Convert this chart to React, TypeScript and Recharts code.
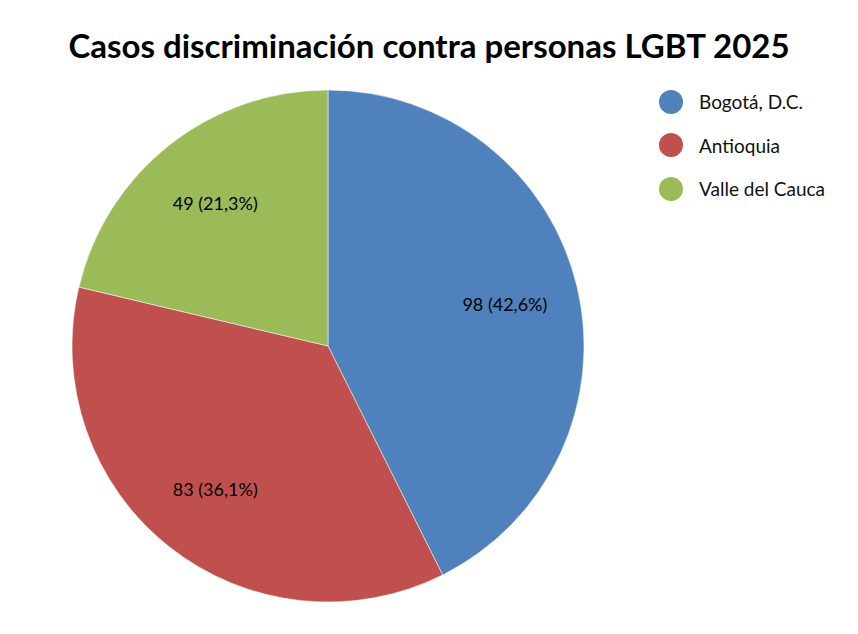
import { PieChart, Pie, Cell, Legend } from 'recharts';

const regions = ['Bogotá, D.C.', 'Antioquia', 'Valle del Cauca'];
const cases = [98, 83, 49];
const colors = ['#4F81BD', '#C0504D', '#9BBB59'];

const data = regions.map((name, i) => ({ name, value: cases[i] }));

const RAD = Math.PI / 180;
const FONT = 'Lato, "Open Sans", sans-serif';

const renderLabel = (props: any) => {
  const { cx, cy, midAngle, outerRadius, value, percent } = props;
  const r = outerRadius * 0.71;
  const x = cx + r * Math.cos(-midAngle * RAD);
  const y = cy + r * Math.sin(-midAngle * RAD);
  const pct = (percent * 100).toFixed(1).replace('.', ',');
  return (
    <text
      x={x}
      y={y}
      textAnchor="middle"
      dominantBaseline="central"
      fill="#000"
      fontSize={18}
      fontFamily={FONT}
    >
      {`${value} (${pct}%)`}
    </text>
  );
};

const LegendContent = () => (
  <div style={{ fontFamily: FONT }}>
    {data.map((d, i) => (
      <div key={d.name} style={{ display: 'flex', alignItems: 'center', height: 43.5 }}>
        <svg width={24} height={24} style={{ marginRight: 16 }}>
          <circle cx={12} cy={12} r={12} fill={colors[i]} />
        </svg>
        <span style={{ fontSize: 19, color: '#111' }}>{d.name}</span>
      </div>
    ))}
  </div>
);

export default function App() {
  return (
    <div style={{ position: 'absolute', left: 0, top: 0, width: 858, height: 634, background: '#fff' }}>
      <div
        style={{
          position: 'absolute',
          left: 0,
          top: 25,
          width: 858,
          textAlign: 'center',
          fontFamily: FONT,
          fontWeight: 700,
          fontSize: 33,
          color: '#000',
          zIndex: 1,
        }}
      >
        Casos discriminación contra personas LGBT 2025
      </div>
      <PieChart width={858} height={634} margin={{ top: 0, right: 0, bottom: 0, left: 0 }}>
        <Pie
          data={data}
          dataKey="value"
          nameKey="name"
          cx={328}
          cy={346}
          outerRadius={256}
          startAngle={90}
          endAngle={-270}
          stroke="#ffffff"
          strokeWidth={0.5}
          label={renderLabel}
          labelLine={false}
          isAnimationActive={false}
        >
          {data.map((d, i) => (
            <Cell key={d.name} fill={colors[i]} />
          ))}
        </Pie>
        <Legend
          layout="vertical"
          align="right"
          verticalAlign="top"
          content={<LegendContent />}
          wrapperStyle={{ left: 659, top: 80, width: 190 }}
        />
      </PieChart>
    </div>
  );
}
